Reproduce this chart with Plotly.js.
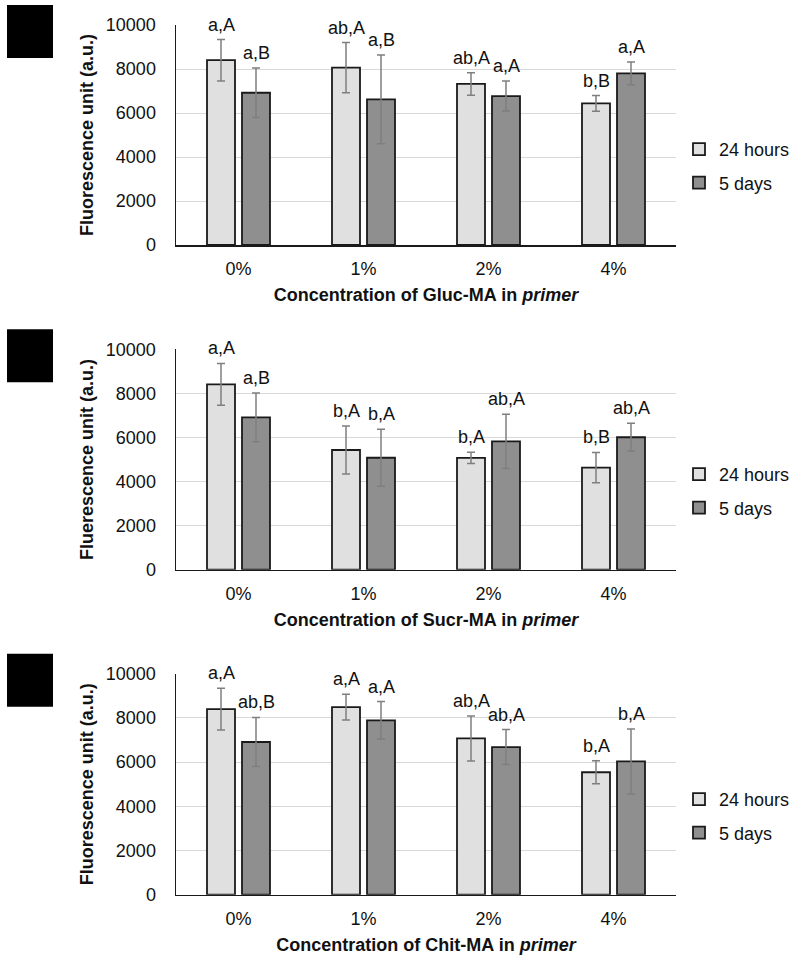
<!DOCTYPE html>
<html>
<head>
<meta charset="utf-8">
<script src="https://cdn.plot.ly/plotly-3.0.1.min.js"></script>
<style>html,body{margin:0;padding:0;background:#fff;}#chart{width:800px;height:961px;}</style>
</head>
<body>
<div id="chart"></div>
<script>
// ---- data ----
const categories = ['0%', '1%', '2%', '4%'];
const seriesNames = ['24 hours', '5 days'];

const glucH24 = [8400, 8060, 7320, 6440];
const glucH24Err = [940, 1140, 515, 355];
const glucD5 = [6920, 6620, 6770, 7800];
const glucD5Err = [1120, 2020, 680, 520];
const glucH24Labels = ['a,A', 'ab,A', 'ab,A', 'b,B'];
const glucD5Labels = ['a,B', 'a,B', 'a,A', 'a,A'];

const sucrH24 = [8410, 5430, 5070, 4630];
const sucrH24Err = [950, 1090, 257, 690];
const sucrD5 = [6910, 5080, 5820, 6010];
const sucrD5Err = [1110, 1290, 1230, 635];
const sucrH24Labels = ['a,A', 'b,A', 'b,A', 'b,B'];
const sucrD5Labels = ['a,B', 'b,A', 'ab,A', 'ab,A'];

const chitH24 = [8400, 8490, 7070, 5540];
const chitH24Err = [945, 580, 1020, 520];
const chitD5 = [6910, 7890, 6680, 6030];
const chitD5Err = [1110, 850, 790, 1470];
const chitH24Labels = ['a,A', 'a,A', 'ab,A', 'b,A'];
const chitD5Labels = ['ab,B', 'a,A', 'ab,A', 'b,A'];

const xTitles = [
  '<b>Concentration of Gluc-MA in <i>primer</i></b>',
  '<b>Concentration of Sucr-MA in <i>primer</i></b>',
  '<b>Concentration of Chit-MA in <i>primer</i></b>'
];
const yTitles = [
  '<b>Fluorescence unit (a.u.)</b>',
  '<b>Fluerescence unit (a.u.)</b>',
  '<b>Fluorescence unit (a.u.)</b>'
];
const yTicks = [0, 2000, 4000, 6000, 8000, 10000];

// ---- styling ----
const FONT = 'Liberation Sans, Arial, sans-serif';
const TXT = '#111111';
const FS = 18;
const fills = ['#e0e0e0', '#8f8f8f'];

const panels = [
  {h: glucH24, he: glucH24Err, d: glucD5, de: glucD5Err, hl: glucH24Labels, dl: glucD5Labels},
  {h: sucrH24, he: sucrH24Err, d: sucrD5, de: sucrD5Err, hl: sucrH24Labels, dl: sucrD5Labels},
  {h: chitH24, he: chitH24Err, d: chitD5, de: chitD5Err, hl: chitH24Labels, dl: chitD5Labels}
];

const W = 800, H = 961;
const xDom = [176 / W, 676 / W];
// pixel top/bottom of each plot area
const pix = [[25, 245], [349.3, 569.7], [673.7, 894.7]];
const legendY = [166, 491, 816];

const traces = [];
const annotations = [];
const layout = {
  width: W, height: H,
  margin: {l: 0, r: 0, t: 0, b: 0},
  paper_bgcolor: '#ffffff', plot_bgcolor: '#ffffff',
  barmode: 'group', bargap: 0.44, bargroupgap: 0.2,
  font: {family: FONT, size: FS, color: TXT},
  showlegend: true,
  shapes: [],
  annotations: annotations
};

panels.forEach((p, i) => {
  const n = i === 0 ? '' : String(i + 1);
  const xa = 'x' + n, ya = 'y' + n;
  const lg = 'legend' + n;
  const vals = [p.h, p.d], errs = [p.he, p.de], labs = [p.hl, p.dl];
  [0, 1].forEach(s => {
    traces.push({
      type: 'bar', x: categories, y: vals[s], name: seriesNames[s],
      xaxis: xa, yaxis: ya, legend: lg, legendgroup: 'g' + i + s,
      marker: {color: fills[s], line: {color: '#1a1a1a', width: 1.8}},
      error_y: {type: 'data', array: errs[s], visible: true, color: '#7f7f7f', thickness: 1.5, width: 4},
      hoverinfo: 'skip'
    });
    categories.forEach((c, k) => {
      annotations.push({
        xref: xa, yref: ya, x: c, y: vals[s][k] + errs[s][k],
        text: labs[s][k], showarrow: false,
        xanchor: 'center', yanchor: 'bottom',
        xshift: s === 0 ? -17.5 : 17.5, yshift: 3,
        font: {family: FONT, size: FS, color: TXT}
      });
    });
  });
  const dom = [(H - pix[i][1]) / H, (H - pix[i][0]) / H];
  layout['xaxis' + n] = {
    domain: xDom, anchor: ya, type: 'category',
    showline: true, linecolor: '#1a1a1a', linewidth: 1.5,
    showgrid: false, zeroline: false, ticks: '',
    ticklabelstandoff: 7,
    tickfont: {family: FONT, size: FS, color: TXT},
    title: {text: xTitles[i], font: {family: FONT, size: FS, color: TXT}, standoff: 10}
  };
  layout['yaxis' + n] = {
    domain: dom, anchor: xa, range: [0, 10000],
    tickvals: yTicks, ticktext: yTicks.map(String),
    showline: true, linecolor: '#1a1a1a', linewidth: 1.5,
    showgrid: true, gridcolor: '#d9d9d9', gridwidth: 1,
    zeroline: false, ticks: '', ticklabelstandoff: 15,
    tickfont: {family: FONT, size: FS, color: TXT},
    title: {text: yTitles[i], font: {family: FONT, size: FS, color: TXT}, standoff: 7}
  };
  layout[lg] = {
    x: 679 / W, y: (H - legendY[i]) / H, xref: 'paper', yref: 'paper',
    xanchor: 'left', yanchor: 'middle',
    traceorder: 'grouped', tracegroupgap: 7,
    font: {family: FONT, size: FS, color: TXT},
    bgcolor: 'rgba(0,0,0,0)', itemclick: false
  };
  // black panel marker square
  layout.shapes.push({
    type: 'rect', xref: 'paper', yref: 'paper',
    x0: 7 / W, x1: 53 / W,
    y0: (H - (pix[i][0] - 20 + 53)) / H, y1: (H - (pix[i][0] - 20)) / H,
    fillcolor: '#000000', line: {width: 0}
  });
});

Plotly.newPlot('chart', traces, layout, {staticPlot: true, displayModeBar: false});
</script>
</body>
</html>
